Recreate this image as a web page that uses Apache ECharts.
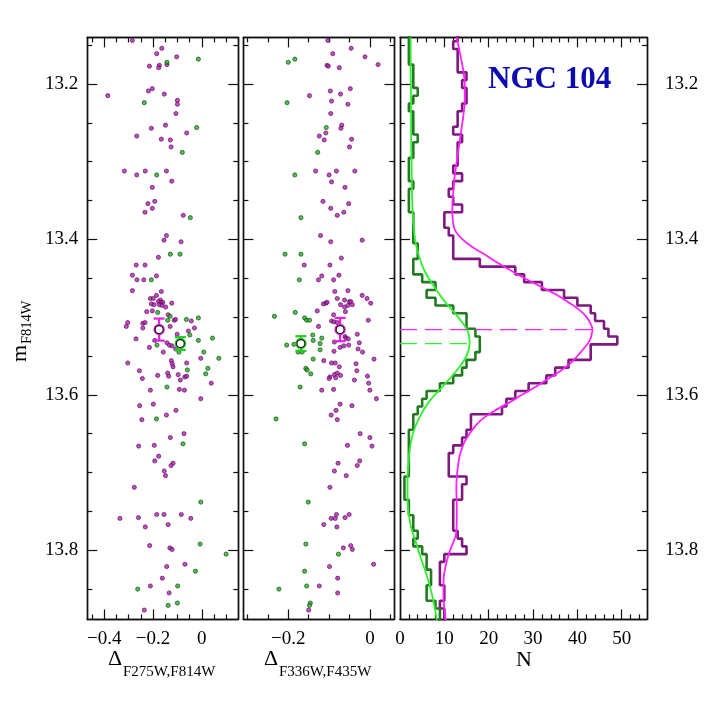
<!DOCTYPE html>
<html>
<head>
<meta charset="utf-8">
<script src="https://cdn.jsdelivr.net/npm/echarts@6/dist/echarts.min.js"></script>
<style>
html, body { margin: 0; padding: 0; background: #fff; }
#chart { width: 706px; height: 706px; }
</style>
</head>
<body>
<div id="chart"></div>
<script>
// magnitude bins (centres) of the histograms
const magBins = [13.14,13.15,13.16,13.17,13.18,13.19,13.20,13.21,13.22,13.23,
  13.24,13.25,13.26,13.27,13.28,13.29,13.30,13.31,13.32,13.33,
  13.34,13.35,13.36,13.37,13.38,13.39,13.40,13.41,13.42,13.43,
  13.44,13.45,13.46,13.47,13.48,13.49,13.50,13.51,13.52,13.53,
  13.54,13.55,13.56,13.57,13.58,13.59,13.60,13.61,13.62,13.63,
  13.64,13.65,13.66,13.67,13.68,13.69,13.70,13.71,13.72,13.73,
  13.74,13.75,13.76,13.77,13.78,13.79,13.80,13.81,13.82,13.83,
  13.84,13.85,13.86,13.87,13.88,13.89];
const countsPurple = [13,12,13,13,13,15,14,15,15,14,
  13,13,12,14,13,13,13,12,14,12,
  11,12,14,10,10,11,12,12,12,18,
  26,28,32,37,40,43,44,46,47,49,
  43,43,38,35,33,29,26,24,23,16,
  16,15,14,12,11,11,11,15,14,14,
  12,12,12,12,13,14,15,10,9,9,
  9,10,10,9,10,10];
const countsGreen = [2,2,2,2,3,3,3,4,3,2,
  3,3,3,4,3,3,2,2,2,3,
  2,2,2,3,3,3,3,4,4,3,
  3,5,8,6,8,12,15,15,17,18,
  18,17,15,14,12,9,6,5,4,3,
  3,2,2,2,2,2,2,1,1,1,
  2,2,3,3,4,3,5,6,6,7,
  7,6,6,8,9,9];

// fitted curves
const fitMagPurple = [13.14,13.16,13.18,13.20,13.22,13.24,13.26,13.28,13.30,13.32,13.34,13.36,13.38,13.39,
  13.40,13.41,13.42,13.43,13.44,13.45,13.46,13.47,13.48,13.49,13.50,13.51,13.516,13.52,13.53,13.54,
  13.55,13.56,13.57,13.58,13.59,13.60,13.61,13.62,13.63,13.64,13.65,13.66,13.67,13.68,13.70,13.72,
  13.74,13.76,13.78,13.79,13.80,13.82,13.84,13.86,13.88,13.89];
const fitPurple = [12.8,13.5,14.2,14.6,14.6,14.3,13.8,13.3,12.8,12.3,12.0,11.8,12.0,12.6,
  14.1,16.4,19.3,22.0,25.0,28.1,31.5,34.9,37.7,40.3,42.1,43.1,43.4,43.3,42.8,41.5,
  40.0,38.3,36.0,33.2,30.5,27.5,24.6,21.5,18.8,17.0,15.7,14.6,13.9,13.4,12.9,12.7,
  12.8,12.8,12.6,12.0,11.3,10.3,9.8,9.8,10.1,10.3];
const fitMagGreen = [13.14,13.18,13.22,13.26,13.30,13.34,13.37,13.40,13.42,13.44,13.46,13.48,13.50,13.52,13.534,
  13.55,13.57,13.59,13.61,13.63,13.65,13.67,13.69,13.71,13.73,13.75,13.77,13.79,13.81,13.83,13.85,13.87,13.89];
const fitGreen = [2.4,2.4,2.5,2.5,2.6,2.7,2.9,3.4,4.2,5.5,7.6,10.1,13.1,15.4,15.7,
  15.0,12.6,9.5,6.4,4.3,2.9,2.2,1.9,1.7,1.7,1.9,2.5,3.6,4.7,5.9,6.9,7.7,8.3];

// mean magnitudes of the two populations and the peaks of the fits
const meanMag = [13.516, 13.534];
const peakN = [43.4, 15.7];

// mean points with errors: [delta, mag, err]
const mean1Purple = [[-0.175, 13.516, 0.0142]];
const mean1Green = [[-0.088, 13.534, 0.0082]];
const mean2Purple = [[-0.073, 13.516, 0.015]];
const mean2Green = [[-0.169, 13.534, 0.0095]];

// stars, panel 1 (Delta F275W,F814W)
const p1Purple = [[-0.285,13.144],[-0.164,13.154],[-0.185,13.161],[-0.103,13.165],[-0.143,13.175],[-0.215,13.177],[-0.174,13.176],[-0.177,13.179],
  [-0.203,13.206],[-0.219,13.209],[-0.154,13.213],[-0.386,13.215],[-0.100,13.221],[-0.100,13.226],[-0.106,13.238],
  [-0.149,13.253],[-0.207,13.257],[-0.062,13.263],[-0.267,13.267],[-0.166,13.271],[-0.129,13.272],[-0.126,13.281],
  [-0.318,13.312],[-0.267,13.317],[-0.232,13.312],[-0.145,13.312],[-0.123,13.325],[-0.203,13.333],
  [-0.193,13.351],[-0.221,13.354],[-0.203,13.360],[-0.233,13.365],[-0.076,13.369],
  [-0.145,13.395],[-0.155,13.401],[-0.085,13.403],[-0.178,13.423],[-0.269,13.433],[-0.233,13.433],
  [-0.285,13.446],[-0.186,13.447],[-0.266,13.452],[-0.238,13.452],[-0.285,13.466],[-0.166,13.467],[-0.186,13.472],
  [-0.211,13.476],[-0.199,13.476],[-0.170,13.478],[-0.178,13.480],[-0.167,13.481],[-0.160,13.481],[-0.207,13.483],
  [-0.196,13.484],[-0.174,13.484],[-0.163,13.485],[-0.123,13.482],[-0.148,13.487],[-0.226,13.493],[-0.203,13.492],
  [-0.138,13.497],[-0.113,13.504],[-0.108,13.503],[-0.043,13.505],[-0.304,13.507],[-0.310,13.512],[-0.242,13.508],
  [-0.233,13.507],[-0.242,13.514],[-0.130,13.512],[-0.030,13.514],[-0.055,13.518],[-0.101,13.522],[-0.270,13.528],
  [-0.193,13.530],[-0.143,13.533],[-0.133,13.536],[-0.122,13.537],[-0.215,13.539],[-0.107,13.541],[-0.158,13.545],
  [-0.004,13.553],[-0.304,13.559],[-0.125,13.556],[-0.121,13.560],[-0.118,13.564],[-0.062,13.559],[-0.256,13.569],
  [-0.140,13.572],[-0.097,13.574],[-0.181,13.575],[-0.136,13.576],[-0.070,13.577],[-0.062,13.576],[-0.244,13.579],
  [-0.088,13.581],[0.039,13.585],[-0.211,13.594],[-0.092,13.593],[-0.071,13.594],[-0.004,13.605],[-0.255,13.614],
  [-0.199,13.612],[-0.106,13.620],[-0.145,13.626],[-0.246,13.632],[-0.129,13.655],[-0.073,13.650],[-0.259,13.666],
  [-0.195,13.665],[-0.177,13.679],[-0.193,13.685],[-0.118,13.688],[-0.126,13.691],[-0.154,13.698],[-0.149,13.704],
  [-0.277,13.719],[-0.336,13.759],[-0.260,13.758],[-0.185,13.754],[-0.155,13.754],[-0.084,13.754],[-0.045,13.759],
  [-0.232,13.770],[-0.138,13.767],[-0.214,13.794],[-0.131,13.797],[-0.122,13.799],[-0.144,13.821],[-0.069,13.818],
  [-0.162,13.836],[-0.211,13.846],[-0.134,13.855],[-0.236,13.877]];
const p1Green = [[-0.014,13.168],[-0.143,13.172],[-0.236,13.224],[-0.021,13.256],[-0.080,13.288],[-0.185,13.317],
  [-0.047,13.372],[-0.129,13.419],[-0.089,13.419],[-0.207,13.452],[-0.181,13.494],[-0.130,13.499],[-0.140,13.504],
  [-0.063,13.503],[-0.014,13.501],[-0.049,13.523],[-0.014,13.530],[0.044,13.527],[-0.184,13.536],[-0.094,13.545],
  [0.008,13.545],[0.070,13.553],[-0.059,13.568],[0.025,13.566],[0.016,13.573],[-0.143,13.590],[-0.186,13.631],
  [-0.077,13.663],[-0.004,13.738],[-0.007,13.792],[0.100,13.805],[-0.026,13.827],[-0.263,13.850],[-0.099,13.846],
  [-0.138,13.871],[-0.100,13.868]];

// stars, panel 2 (Delta F336W,F435W)
const p2Purple = [[-0.103,13.144],[-0.046,13.154],[-0.091,13.161],[-0.012,13.165],[0.020,13.175],[-0.105,13.176],[-0.102,13.177],
  [-0.075,13.179],[-0.048,13.206],[-0.097,13.209],[-0.072,13.213],[-0.148,13.215],[-0.094,13.222],[-0.054,13.226],
  [-0.096,13.238],[-0.069,13.253],[-0.071,13.257],[-0.108,13.263],[-0.124,13.267],[-0.045,13.271],[-0.112,13.272],
  [-0.050,13.281],[-0.133,13.312],[-0.100,13.317],[-0.082,13.312],[-0.037,13.312],[-0.094,13.326],[-0.061,13.333],
  [-0.115,13.351],[-0.052,13.354],[-0.096,13.360],[-0.064,13.365],[-0.080,13.369],[-0.121,13.395],[-0.096,13.403],
  [-0.019,13.401],[-0.070,13.424],[-0.161,13.433],[-0.098,13.433],[-0.076,13.446],[-0.118,13.447],[-0.126,13.452],
  [-0.089,13.452],[-0.086,13.467],[-0.054,13.466],[-0.019,13.472],[-0.007,13.476],[0.002,13.482],[-0.080,13.476],
  [-0.062,13.478],[-0.050,13.480],[-0.047,13.480],[-0.114,13.483],[-0.108,13.482],[-0.105,13.481],[-0.072,13.484],
  [-0.054,13.485],[-0.043,13.484],[-0.062,13.487],[-0.129,13.492],[-0.060,13.493],[-0.089,13.497],[-0.126,13.512],
  [-0.004,13.504],[-0.094,13.505],[-0.088,13.506],[-0.080,13.507],[-0.031,13.522],[-0.026,13.533],[-0.029,13.541],
  [-0.018,13.545],[-0.061,13.525],[-0.059,13.527],[-0.053,13.528],[-0.052,13.536],[-0.064,13.537],[-0.073,13.539],
  [-0.087,13.532],[-0.088,13.544],[-0.113,13.556],[-0.094,13.559],[-0.085,13.559],[-0.034,13.560],[0.010,13.554],
  [-0.075,13.564],[-0.032,13.569],[-0.080,13.572],[-0.087,13.574],[-0.098,13.577],[-0.100,13.579],[-0.084,13.578],
  [-0.072,13.575],[-0.038,13.581],[-0.006,13.576],[-0.003,13.585],[-0.118,13.594],[-0.089,13.593],[0.000,13.594],
  [0.016,13.605],[-0.073,13.612],[-0.044,13.614],[-0.083,13.620],[-0.095,13.626],[-0.080,13.632],[-0.024,13.650],
  [0.000,13.655],[-0.055,13.665],[0.005,13.666],[-0.025,13.685],[-0.031,13.691],[-0.078,13.688],[-0.087,13.698],
  [-0.058,13.704],[-0.098,13.719],[-0.082,13.754],[-0.085,13.759],[-0.095,13.759],[-0.051,13.754],[-0.061,13.758],
  [-0.113,13.767],[-0.081,13.770],[-0.047,13.794],[-0.043,13.799],[-0.065,13.797],[-0.099,13.821],[0.009,13.818],
  [-0.079,13.836],[-0.124,13.846],[-0.079,13.855],[-0.150,13.877]];
const p2Green = [[-0.184,13.168],[-0.200,13.172],[-0.203,13.224],[-0.107,13.256],[-0.128,13.288],[-0.184,13.317],
  [-0.169,13.372],[-0.208,13.419],[-0.169,13.419],[-0.173,13.452],[-0.183,13.494],[-0.234,13.499],[-0.160,13.501],
  [-0.155,13.504],[-0.148,13.504],[-0.140,13.523],[-0.139,13.530],[-0.118,13.527],[-0.122,13.534],[-0.122,13.542],
  [-0.204,13.536],[-0.186,13.535],[-0.176,13.545],[-0.166,13.545],[-0.139,13.554],[-0.157,13.566],[-0.154,13.568],
  [-0.145,13.573],[-0.171,13.590],[-0.230,13.631],[-0.160,13.663],[-0.151,13.738],[-0.157,13.792],[-0.077,13.805],
  [-0.160,13.827],[-0.223,13.850],[-0.155,13.846],[-0.146,13.868],[-0.148,13.871]];

// axis ranges and ticks
const magRange = [13.14, 13.889];
const magMajor = [13.2, 13.4, 13.6, 13.8];
const magMinor = [13.15, 13.25, 13.3, 13.35, 13.45, 13.5, 13.55, 13.65, 13.7, 13.75, 13.85];
const d1Range = [-0.47, 0.15];
const d1Major = [-0.4, -0.2, 0];
const d1Minor = [-0.45, -0.35, -0.3, -0.25, -0.15, -0.1, -0.05, 0.05, 0.1];
const d2Range = [-0.31, 0.06];
const d2Major = [-0.2, 0];
const d2Minor = [-0.3, -0.25, -0.15, -0.1, -0.05, 0.05];
const nRange = [0, 55.7];
const nLabels = [0, 10, 20, 30, 40, 50];
const nMajor = [10, 20, 30, 40, 50];
const nMinor = [2, 4, 6, 8, 12, 14, 16, 18, 22, 24, 26, 28, 32, 34, 36, 38, 42, 44, 46, 48, 52, 54];

const FONT = 'Liberation Serif';
const PURPLE_DOT = '#b81cb8', GREEN_DOT = '#20b020';
const PURPLE_HIST = '#7e1a7e', GREEN_HIST = '#237a23';
const MAGENTA = '#ff22ff', LIME = '#30ee30';

function fmt(v) {
    return v < 0 ? '\u2212' + String(-v) : String(v);
}

function makeAxis(gi, pos, range, ticks, len, labels, inverse, margin) {
    return {
        gridIndex: gi, type: 'value', position: pos,
        min: range[0], max: range[1], inverse: !!inverse,
        axisLine: { show: true, onZero: false, lineStyle: { color: '#111', width: 1.4 } },
        splitLine: { show: false },
        axisTick: { show: true, inside: true, length: len, customValues: ticks,
            lineStyle: { color: '#111', width: 1.2 } },
        axisLabel: labels ? {
            show: true, customValues: labels, formatter: fmt, margin: margin,
            fontFamily: FONT, fontSize: 19, color: '#000'
        } : { show: false }
    };
}

const grids = [
    { left: 87.3, top: 37.4, width: 151, height: 582 },
    { left: 243.4, top: 37.4, width: 151, height: 582 },
    { left: 400, top: 37.4, width: 247, height: 582 }
];
const xSpec = [
    [d1Range, d1Major, d1Minor, d1Major],
    [d2Range, d2Major, d2Minor, d2Major],
    [nRange, nMajor, nMinor, nLabels]
];

const xAxes = [], yAxes = [];
xSpec.forEach(function (s, gi) {
    xAxes.push(makeAxis(gi, 'bottom', s[0], s[1], 10, s[3], false, 10));
    xAxes.push(makeAxis(gi, 'bottom', s[0], s[2], 5));
    xAxes.push(makeAxis(gi, 'top', s[0], s[1], 10));
    xAxes.push(makeAxis(gi, 'top', s[0], s[2], 5));
    yAxes.push(makeAxis(gi, 'left', magRange, magMajor, 10, gi === 0 ? magMajor : null, true, 9));
    yAxes.push(makeAxis(gi, 'left', magRange, magMinor, 5, null, true));
    yAxes.push(makeAxis(gi, 'right', magRange, magMajor, 10, gi === 2 ? magMajor : null, true, 18));
    yAxes.push(makeAxis(gi, 'right', magRange, magMinor, 5, null, true));
});

function meanMarker(color) {
    return function (params, api) {
        const x = api.value(0), y = api.value(1), e = api.value(2);
        const c = api.coord([x, y]);
        const t = api.coord([x, y - e]);
        const b = api.coord([x, y + e]);
        const w = 5.5;
        const st = { stroke: color, lineWidth: 2.2 };
        return {
            type: 'group',
            children: [
                { type: 'line', shape: { x1: c[0], y1: t[1], x2: c[0], y2: b[1] }, style: st },
                { type: 'line', shape: { x1: c[0] - w, y1: t[1], x2: c[0] + w, y2: t[1] }, style: st },
                { type: 'line', shape: { x1: c[0] - w, y1: b[1], x2: c[0] + w, y2: b[1] }, style: st },
                { type: 'circle', shape: { cx: c[0], cy: c[1], r: 5 }, style: { fill: '#fff', stroke: color, lineWidth: 1.4 } },
                { type: 'circle', shape: { cx: c[0], cy: c[1], r: 4 }, style: { fill: '#fff', stroke: '#111', lineWidth: 1.2 } }
            ]
        };
    };
}

function dots(gi, data, fill, edge) {
    return {
        type: 'scatter', xAxisIndex: gi * 4, yAxisIndex: gi * 4, data: data,
        symbolSize: 4.2, itemStyle: { color: fill, borderColor: edge, borderWidth: 0.8 },
        z: 3
    };
}

function means(gi, data, color) {
    return {
        type: 'custom', xAxisIndex: gi * 4, yAxisIndex: gi * 4, data: data,
        renderItem: meanMarker(color), z: 5
    };
}

// histogram outline, vertical steps from the bin centres
function steps(counts) {
    const half = (magBins[1] - magBins[0]) / 2;
    const pts = [];
    magBins.forEach(function (m, i) {
        pts.push([counts[i], m - half]);
        pts.push([counts[i], m + half]);
    });
    return pts;
}

function pairs(ns, mags) {
    return mags.map(function (m, i) { return [ns[i], m]; });
}

function lineSeries(data, color, width, extra) {
    return Object.assign({
        type: 'line', xAxisIndex: 8, yAxisIndex: 8, data: data,
        showSymbol: false, symbol: 'none', clip: true,
        lineStyle: { color: color, width: width }
    }, extra || {});
}

const series = [
    dots(0, p1Purple, PURPLE_DOT, '#4a104a'),
    dots(0, p1Green, GREEN_DOT, '#0d3d0d'),
    means(0, mean1Purple, '#e020e0'),
    means(0, mean1Green, '#22cc22'),
    dots(1, p2Purple, PURPLE_DOT, '#4a104a'),
    dots(1, p2Green, GREEN_DOT, '#0d3d0d'),
    means(1, mean2Purple, '#e020e0'),
    means(1, mean2Green, '#22cc22'),
    lineSeries(steps(countsPurple), PURPLE_HIST, 2.6, { z: 2 }),
    lineSeries(steps(countsGreen), GREEN_HIST, 2.6, { z: 2 }),
    lineSeries(pairs(fitPurple, fitMagPurple), MAGENTA, 1.8, { smooth: 0.4, z: 3 }),
    lineSeries(pairs(fitGreen, fitMagGreen), LIME, 1.8, { smooth: 0.4, z: 3 }),
    lineSeries([[0, meanMag[0]], [peakN[0], meanMag[0]]], MAGENTA, 1.3, { z: 4, lineStyle: { color: MAGENTA, width: 1.3, type: [17, 8] } }),
    lineSeries([[0, meanMag[1]], [peakN[1], meanMag[1]]], LIME, 1.3, { z: 4, lineStyle: { color: LIME, width: 1.3, type: [17, 8] } })
];

function txt(x, y, s, size, extra) {
    return {
        type: 'text', x: x, y: y, silent: true,
        style: Object.assign({
            text: s, fontFamily: FONT, fontSize: size, fill: '#000',
            align: 'left', textAlign: 'left', verticalAlign: 'bottom', textVerticalAlign: 'bottom'
        }, extra || {})
    };
}

const graphics = [
    txt(488, 95, 'NGC 104', 31, { fill: '#0b0bb0', fontWeight: 'bold' }),
    txt(108, 670, '\u0394', 22),
    txt(123, 680, 'F275W,F814W', 15),
    txt(264, 670, '\u0394', 22),
    txt(279, 680, 'F336W,F435W', 15),
    txt(516, 671, 'N', 22),
    Object.assign(txt(31, 362, 'm', 22), { rotation: Math.PI / 2 }),
    Object.assign(txt(35, 344, 'F814W', 14.5), { rotation: Math.PI / 2 })
];

const chart = echarts.init(document.getElementById('chart'));
chart.setOption({
    animation: false,
    backgroundColor: '#fff',
    grid: grids,
    xAxis: xAxes,
    yAxis: yAxes,
    series: series,
    graphic: graphics
});
</script>
</body>
</html>
